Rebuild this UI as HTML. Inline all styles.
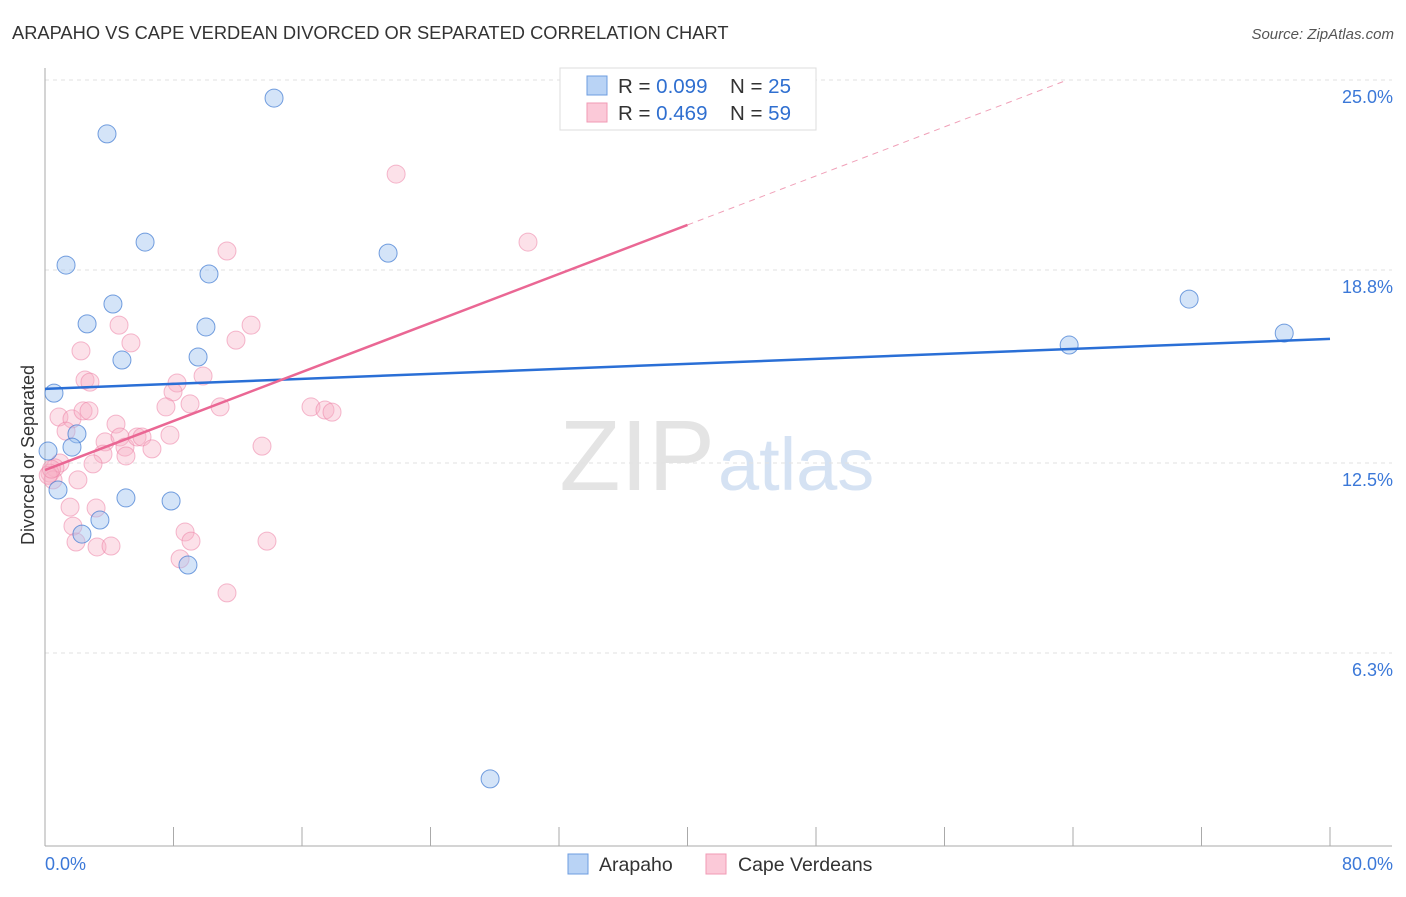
<!DOCTYPE html>
<html><head><meta charset="utf-8"><style>
body{margin:0;background:#fff;font-family:"Liberation Sans",sans-serif}
svg text{font-family:"Liberation Sans",sans-serif}
</style></head><body>
<svg id="c" width="1406" height="892">
<text x="12" y="39" font-size="18.3" fill="#333">ARAPAHO VS CAPE VERDEAN DIVORCED OR SEPARATED CORRELATION CHART</text>
<text x="1394" y="39" font-size="15" fill="#555" font-style="italic" text-anchor="end">Source: ZipAtlas.com</text>
<text x="715" y="490" font-size="100" fill="#e4e4e4" text-anchor="end" font-family="Liberation Serif">ZIP</text>
<text x="718" y="490" font-size="74" fill="#d5e2f3">atlas</text>
<g id="grid"></g>
<g id="axes"></g>
<g id="marks"></g>
<text transform="translate(34,455) rotate(-90)" font-size="18" fill="#333" text-anchor="middle">Divorced or Separated</text>
<g>
<rect x="560" y="68" width="256" height="62" fill="#fff" stroke="#ddd"/>
<rect x="587" y="76" width="20" height="19" fill="#b9d3f5" stroke="#6d9de0"/>
<rect x="587" y="103" width="20" height="19" fill="#fbc9d8" stroke="#f09ab5"/>
<text x="618" y="93" font-size="20.5" fill="#333">R = <tspan fill="#2f6fd0">0.099</tspan></text>
<text x="730" y="93" font-size="20.5" fill="#333">N = <tspan fill="#2f6fd0">25</tspan></text>
<text x="618" y="120" font-size="20.5" fill="#333">R = <tspan fill="#2f6fd0">0.469</tspan></text>
<text x="730" y="120" font-size="20.5" fill="#333">N = <tspan fill="#2f6fd0">59</tspan></text>
</g>
<g>
<rect x="568" y="854" width="20" height="20" fill="#b9d3f5" stroke="#6d9de0"/>
<text x="599" y="871" font-size="19.5" fill="#333">Arapaho</text>
<rect x="706" y="854" width="20" height="20" fill="#fbc9d8" stroke="#f09ab5"/>
<text x="738" y="871" font-size="19.5" fill="#333">Cape Verdeans</text>
</g>
</svg>
<script>
const yTicks=[25,18.8,12.5,6.3];
const yTickLabels=["25.0%","18.8%","12.5%","6.3%"];
const xTicks=[0,8,16,24,32,40,48,56,64,72,80];
const blueX=[0.19,3.86,1.31,6.23,2.62,4.23,4.79,0.56,10.21,10.02,9.53,14.26,21.36,1.99,1.68,0.81,5.04,7.85,3.42,2.30,8.90,27.71,63.76,71.23,77.15];
const blueY=[12.89,23.24,18.96,19.71,17.04,17.69,15.86,14.78,18.67,16.94,15.96,24.41,19.35,13.45,13.02,11.62,11.36,11.26,10.64,10.18,9.17,2.19,16.35,17.85,16.74];
const pinkX=[4.61,5.35,2.24,12.83,11.89,2.49,2.80,8.22,7.97,9.84,7.53,9.03,10.90,16.56,17.43,17.87,0.87,1.68,2.37,2.74,4.42,1.31,3.74,4.67,4.98,5.73,6.04,6.66,7.78,5.04,3.61,2.99,0.93,0.62,0.31,0.50,2.05,13.51,1.56,3.18,1.74,1.93,3.24,4.11,8.72,9.09,8.41,13.82,11.33,21.86,30.07,11.33,0.2,0.4];
const pinkY=[17.00,16.42,16.16,17.00,16.51,15.21,15.14,15.11,14.82,15.34,14.33,14.43,14.33,14.33,14.23,14.16,14.00,13.94,14.20,14.20,13.77,13.54,13.19,13.35,13.02,13.35,13.35,12.96,13.41,12.73,12.79,12.47,12.50,12.34,12.17,11.95,11.95,13.05,11.06,11.03,10.44,9.92,9.76,9.79,10.25,9.95,9.37,9.95,8.26,21.93,19.71,19.42,12.1,12.3];
const blueTrend=[14.92,16.55]; // y at x=0, x=80
const pinkTrend=[12.27,0.2]; // intercept, slope
const X=v=>45+v*16.0625, Y=v=>846-v*30.64;
const NS="http://www.w3.org/2000/svg";
function mk(tag,attrs,parent){const e=document.createElementNS(NS,tag);for(const k in attrs)e.setAttribute(k,attrs[k]);parent.appendChild(e);return e;}
const grid=document.getElementById('grid'),axes=document.getElementById('axes'),marks=document.getElementById('marks');
let tl=mk('line',{x1:45,x2:1392,y1:80,y2:80,stroke:'#ddd','stroke-dasharray':'4,4'},grid);


yTicks.forEach((t,i)=>{
 const g=mk('line',{x1:45,x2:1392,y1:Y(t),y2:Y(t),stroke:'#e2e2e2','stroke-dasharray':'4,4'},grid);
 
 
 const l=mk('text',{x:1393,y:Y(t)+23,'font-size':18,fill:'#3b78d8','text-anchor':'end'},axes);l.textContent=yTickLabels[i];
 
 
});
let a=mk('line',{x1:45,x2:45,y1:68,y2:846,stroke:'#aaa'},axes);


a=mk('line',{x1:45,x2:1392,y1:846,y2:846,stroke:'#aaa'},axes);


xTicks.forEach(t=>{const k=mk('line',{x1:X(t),x2:X(t),y1:827,y2:846,stroke:'#aaa'},axes);
 
 });
let xl=mk('text',{x:45,y:870,'font-size':18,fill:'#3b78d8'},axes);xl.textContent='0.0%';


xl=mk('text',{x:1393,y:870,'font-size':18,fill:'#3b78d8','text-anchor':'end'},axes);xl.textContent='80.0%';


pinkX.forEach((x,i)=>{const c=mk('circle',{cx:X(x),cy:Y(pinkY[i]),r:9,fill:'rgba(248,175,198,0.38)',stroke:'rgba(236,130,165,0.55)','stroke-width':1},marks);
 
 });
blueX.forEach((x,i)=>{const c=mk('circle',{cx:X(x),cy:Y(blueY[i]),r:9,fill:'rgba(160,195,240,0.45)',stroke:'rgba(60,120,210,0.7)','stroke-width':1},marks);
 
 });
let tr=mk('line',{x1:X(0),y1:Y(blueTrend[0]),x2:X(80),y2:Y(blueTrend[1]),stroke:'#2a6fd6','stroke-width':2.5},marks);


tr=mk('line',{x1:X(0),y1:Y(pinkTrend[0]),x2:X(40),y2:Y(pinkTrend[0]+40*pinkTrend[1]),stroke:'#ea6794','stroke-width':2.5},marks);


const xe=(25-pinkTrend[0])/pinkTrend[1];
tr=mk('line',{x1:X(40),y1:Y(pinkTrend[0]+40*pinkTrend[1]),x2:X(xe),y2:Y(25),stroke:'#f0a0b8','stroke-width':1,'stroke-dasharray':'6,5'},marks);


</script>
</body></html>
